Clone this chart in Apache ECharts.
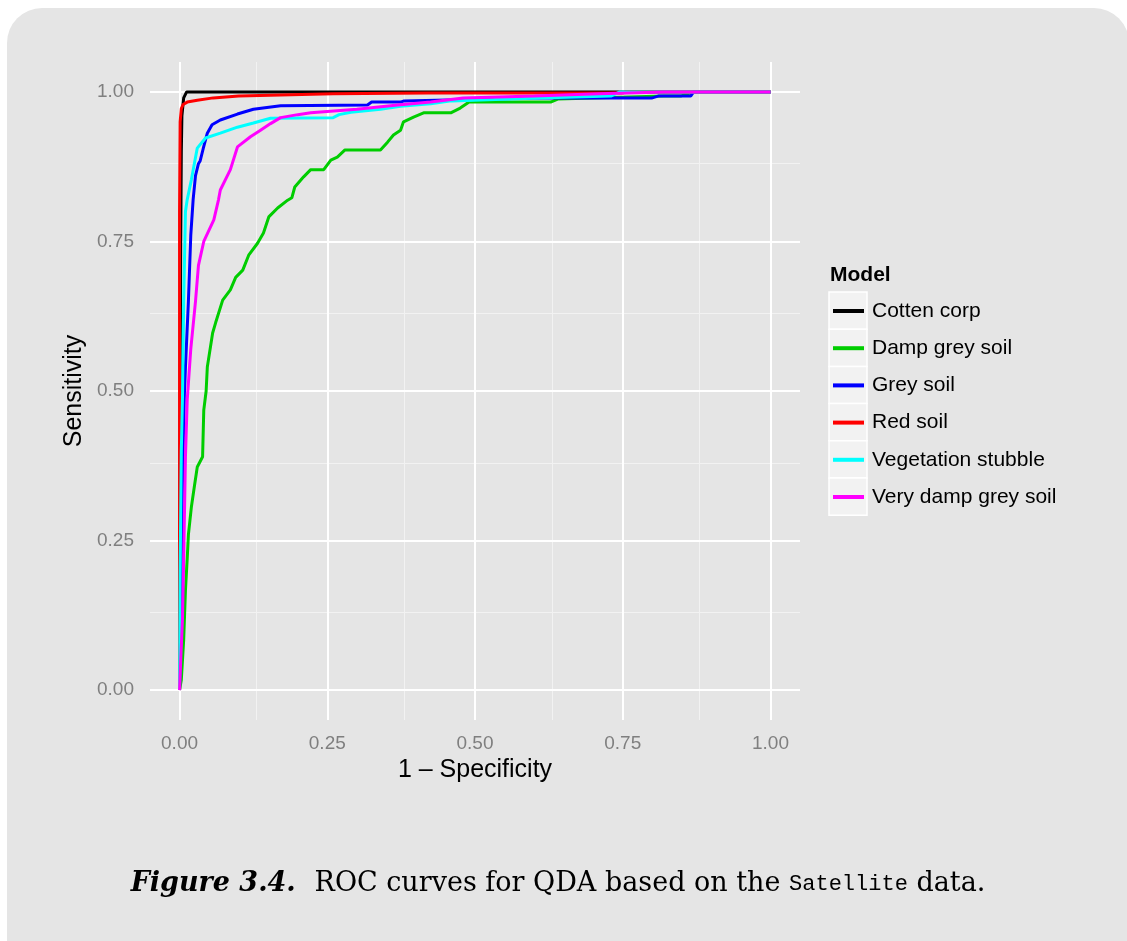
<!DOCTYPE html>
<html>
<head>
<meta charset="utf-8">
<script src="https://cdn.jsdelivr.net/npm/echarts@6/dist/echarts.min.js"></script>
<style>
  html, body { margin: 0; padding: 0; background: #fff; }
  #main { width: 1127px; height: 941px; }
</style>
</head>
<body>
<div id="main"></div>
<script>
// model names, in legend order
var models = ['Cotten corp', 'Damp grey soil', 'Grey soil', 'Red soil', 'Vegetation stubble', 'Very damp grey soil'];
var colors = ['#000000', '#00CD00', '#0000FF', '#FF0000', '#00FFFF', '#FF00FF'];

// ROC points [1 - specificity, sensitivity]
var cottenCorp = [[0,0],[0,0.2],[0.001,0.5],[0.002,0.75],[0.003,0.9],[0.004,0.96],[0.007,0.99],[0.012,1],[1,1]];
var dampGreySoil = [[0,0],[0.003,0.017],[0.007,0.084],[0.01,0.167],[0.013,0.22],[0.015,0.26],[0.02,0.306],[0.025,0.34],
    [0.03,0.373],[0.039,0.39],[0.041,0.468],[0.045,0.5],[0.047,0.54],[0.056,0.597],[0.061,0.614],[0.073,0.652],
    [0.086,0.669],[0.095,0.69],[0.107,0.702],[0.117,0.727],[0.132,0.747],[0.142,0.764],[0.151,0.791],[0.166,0.806],
    [0.183,0.819],[0.19,0.823],[0.195,0.841],[0.21,0.858],[0.222,0.87],[0.244,0.87],[0.256,0.886],[0.267,0.891],
    [0.28,0.903],[0.34,0.903],[0.352,0.916],[0.362,0.928],[0.374,0.936],[0.379,0.95],[0.396,0.958],[0.413,0.965],
    [0.459,0.965],[0.475,0.973],[0.49,0.983],[0.628,0.983],[0.64,0.988],[0.82,0.993],[0.848,0.993],[0.87,1],[1,1]];
var greySoil = [[0,0],[0.002,0.15],[0.005,0.35],[0.008,0.49],[0.01,0.54],[0.015,0.65],[0.019,0.76],[0.023,0.82],
    [0.027,0.86],[0.032,0.88],[0.035,0.885],[0.04,0.905],[0.047,0.931],[0.055,0.945],[0.069,0.953],[0.098,0.963],
    [0.125,0.971],[0.171,0.977],[0.318,0.978],[0.325,0.983],[0.374,0.983],[0.38,0.985],[0.6,0.99],[0.8,0.99],
    [0.81,0.993],[0.865,0.993],[0.87,1],[1,1]];
var redSoil = [[0,0],[0,0.8],[0.001,0.95],[0.003,0.972],[0.006,0.979],[0.013,0.983],[0.03,0.986],[0.057,0.99],
    [0.1,0.993],[0.26,0.997],[0.42,0.998],[0.75,0.998],[0.755,1],[1,1]];
var vegetationStubble = [[0,0],[0.001,0.2],[0.003,0.4],[0.005,0.49],[0.007,0.65],[0.01,0.8],[0.013,0.82],[0.02,0.853],
    [0.025,0.88],[0.03,0.906],[0.044,0.923],[0.069,0.931],[0.098,0.941],[0.125,0.948],[0.154,0.956],[0.26,0.957],
    [0.27,0.962],[0.29,0.966],[0.34,0.971],[0.374,0.976],[0.425,0.98],[0.46,0.985],[0.61,0.99],[0.73,0.993],
    [0.745,1],[1,1]];
var veryDampGreySoil = [[0,0],[0.002,0.05],[0.005,0.12],[0.007,0.22],[0.01,0.39],[0.013,0.485],[0.019,0.57],
    [0.027,0.65],[0.032,0.71],[0.041,0.75],[0.058,0.786],[0.066,0.82],[0.069,0.836],[0.086,0.87],[0.098,0.908],
    [0.12,0.925],[0.137,0.936],[0.154,0.947],[0.171,0.957],[0.2,0.962],[0.222,0.965],[0.3,0.971],[0.369,0.978],
    [0.425,0.983],[0.48,0.99],[0.6,0.993],[0.71,0.997],[0.82,1],[1,1]];
var curves = [cottenCorp, dampGreySoil, greySoil, redSoil, vegetationStubble, veryDampGreySoil];

// axis breaks
var majorBreaks = [0, 0.25, 0.5, 0.75, 1];
var minorBreaks = [0.125, 0.375, 0.625, 0.875];

var chart = echarts.init(document.getElementById('main'));

function gridLines(vals) {
    var out = [];
    vals.forEach(function (v) {
        out.push({ xAxis: v });
        out.push({ yAxis: v });
    });
    return out;
}

// panel grid drawn as mark lines, kept under the curves
var series = [
    {
        type: 'line', data: [], z: 1, silent: true,
        markLine: {
            silent: true, symbol: ['none', 'none'], animation: false, z: 1,
            label: { show: false },
            lineStyle: { color: '#F2F2F2', width: 1, type: 'solid' },
            data: gridLines(minorBreaks)
        }
    },
    {
        type: 'line', data: [], z: 1, silent: true,
        markLine: {
            silent: true, symbol: ['none', 'none'], animation: false, z: 1,
            label: { show: false },
            lineStyle: { color: '#FFFFFF', width: 2, type: 'solid' },
            data: gridLines(majorBreaks)
        }
    }
];
models.forEach(function (name, i) {
    series.push({
        name: name,
        type: 'line',
        data: curves[i],
        showSymbol: false,
        z: 10 + i,
        lineStyle: { color: colors[i], width: 3 },
        itemStyle: { color: colors[i] }
    });
});

var keyBoxes = models.map(function (m, i) {
    return {
        type: 'rect', z: 0,
        shape: { x: 829, y: 292 + i * 37.2, width: 38, height: 37.2 },
        style: { fill: '#F2F2F2', stroke: '#FFFFFF', lineWidth: 1.5 }
    };
});

var axisCommon = {
    type: 'value',
    min: -0.05,
    max: 1.05,
    axisLine: { show: false },
    splitLine: { show: false },
    axisTick: {
        show: true, customValues: majorBreaks, length: 5,
        lineStyle: { color: '#7F7F7F', width: 2 }
    },
    axisLabel: {
        show: true, customValues: majorBreaks,
        color: '#7F7F7F', fontSize: 19, fontFamily: 'Liberation Sans',
        formatter: function (v) { return v.toFixed(2); }
    },
    nameLocation: 'middle',
    nameTextStyle: { color: '#000', fontSize: 25, fontFamily: 'Liberation Sans' }
};

chart.setOption({
    animation: false,
    backgroundColor: '#FFFFFF',
    grid: { left: 150, right: 327, top: 62, bottom: 221, show: true, backgroundColor: '#E5E5E5', borderWidth: 0 },
    xAxis: echarts.util.merge({ name: '1 \u2013 Specificity', nameGap: 35, axisLabel: { margin: 14 } }, axisCommon),
    yAxis: echarts.util.merge({ name: 'Sensitivity', nameGap: 60, axisLabel: { margin: 16 } }, axisCommon),
    legend: {
        data: models,
        orient: 'vertical',
        left: 833, top: 300,
        padding: 0,
        z: 4,
        icon: 'rect',
        itemWidth: 31, itemHeight: 4,
        itemGap: 15.2,
        selectedMode: false,
        textStyle: { color: '#000', fontSize: 21, lineHeight: 22, fontFamily: 'Liberation Sans', padding: [0, 0, 0, 3] }
    },
    graphic: [
        {
            type: 'rect', z: -10, silent: true,
            shape: { x: 7, y: 8, width: 1122, height: 1000, r: 35 },
            style: { fill: '#E5E5E5' }
        },
        {
            type: 'text', z: 5, left: 830, top: 265,
            style: { text: 'Model', font: 'bold 21px "Liberation Sans"', fill: '#000' }
        }
    ].concat(keyBoxes).concat([
        {
            type: 'text', z: 5, x: 558, y: 884,
            style: {
                text: '{b|Figure 3.4.  }{r|ROC curves for QDA based on the }{m|Satellite}{r| data.}',
                align: 'center', verticalAlign: 'middle',
                rich: {
                    b: { font: 'italic bold 27px "DejaVu Serif"', fill: '#000' },
                    r: { font: '27px "DejaVu Serif"', fill: '#000' },
                    m: { font: '22px "Liberation Mono"', fill: '#000' }
                }
            }
        }
    ]),
    series: series
});
</script>
</body>
</html>
